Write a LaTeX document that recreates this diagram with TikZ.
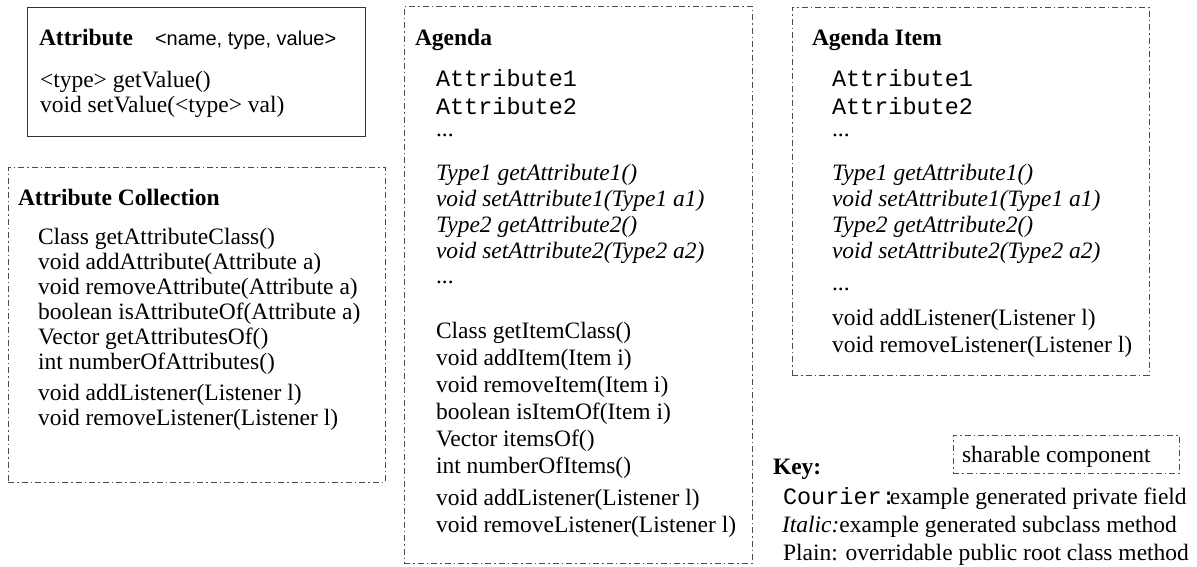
\documentclass[tikz,border=0pt]{standalone}
\usepackage{fontspec}
\setmainfont{Liberation Serif}
\setsansfont{Liberation Sans}
\setmonofont{Liberation Mono}
\begin{document}
\begin{tikzpicture}[x=1pt,y=-1pt,
  txt/.style={anchor=base west, inner sep=0pt, outer sep=0pt, font=\fontsize{23.5}{26}\selectfont},
  head/.style={txt, font=\fontsize{23.5}{26}\selectfont\bfseries},
  field/.style={txt, font=\fontsize{23.5}{26}\selectfont\ttfamily},
  gen/.style={txt, font=\fontsize{23.5}{26}\selectfont\itshape},
  tag/.style={txt, font=\fontsize{20}{22}\selectfont\sffamily},
  classbox/.style={draw=black!80, line width=1.2pt, anchor=north west, inner sep=0pt},
  sharebox/.style={draw=black!70, line width=0.9pt,
    dash pattern=on 6pt off 3pt on 1.5pt off 3pt, anchor=north west, inner sep=0pt}
]
\useasboundingbox (0,0) rectangle (1197,567);

% ---- Attribute (plain class) ----
\node[classbox, minimum width=338pt, minimum height=129pt] (attrbox) at (27,7) {};
\node[head] (attrT) at (39,46) {Attribute};
\node[tag]  (attrS) at (155,46) {<name, type, value>};
\node[txt]  (attrA) at (40,88) {<type> getValue()};
\node[txt]  (attrB) at (40,113) {void setValue(<type> val)};

% ---- Attribute Collection ----
\node[sharebox, minimum width=377pt, minimum height=315pt] (collbox) at (8,167) {};
\node[head] (collT) at (18,205) {Attribute Collection};
\node[txt] (coll1) at (38,244) {Class getAttributeClass()};
\node[txt] (coll2) at (38,269) {void addAttribute(Attribute a)};
\node[txt] (coll3) at (38,294) {void removeAttribute(Attribute a)};
\node[txt] (coll4) at (38,319) {boolean isAttributeOf(Attribute a)};
\node[txt] (coll5) at (38,344) {Vector getAttributesOf()};
\node[txt] (coll6) at (38,369) {int numberOfAttributes()};
\node[txt] (coll7) at (38,400) {void addListener(Listener l)};
\node[txt] (coll8) at (38,425) {void removeListener(Listener l)};

% ---- Agenda ----
\node[sharebox, minimum width=348pt, minimum height=557pt] (agbox) at (404,6) {};
\node[head]  (agT)  at (415,46) {Agenda};
\node[field] (agF1) at (436,87) {Attribute1};
\node[field] (agF2) at (436,115) {Attribute2};
\node[txt]   (agD1) at (436,137) {...};
\node[gen]   (agG1) at (436,180) {Type1 getAttribute1()};
\node[gen]   (agG2) at (436,206) {void setAttribute1(Type1 a1)};
\node[gen]   (agG3) at (436,232) {Type2 getAttribute2()};
\node[gen]   (agG4) at (436,258) {void setAttribute2(Type2 a2)};
\node[txt]   (agD2) at (436,283) {...};
\node[txt]   (agM1) at (436,338) {Class getItemClass()};
\node[txt]   (agM2) at (436,365) {void addItem(Item i)};
\node[txt]   (agM3) at (436,392) {void removeItem(Item i)};
\node[txt]   (agM4) at (436,419) {boolean isItemOf(Item i)};
\node[txt]   (agM5) at (436,446) {Vector itemsOf()};
\node[txt]   (agM6) at (436,473) {int numberOfItems()};
\node[txt]   (agL1) at (436,505) {void addListener(Listener l)};
\node[txt]   (agL2) at (436,532) {void removeListener(Listener l)};

% ---- Agenda Item ----
\node[sharebox, minimum width=357pt, minimum height=368pt] (itbox) at (792,7) {};
\node[head]  (itT)  at (812,46) {Agenda Item};
\node[field] (itF1) at (832,87) {Attribute1};
\node[field] (itF2) at (832,115) {Attribute2};
\node[txt]   (itD1) at (832,137) {...};
\node[gen]   (itG1) at (832,180) {Type1 getAttribute1()};
\node[gen]   (itG2) at (832,206) {void setAttribute1(Type1 a1)};
\node[gen]   (itG3) at (832,232) {Type2 getAttribute2()};
\node[gen]   (itG4) at (832,258) {void setAttribute2(Type2 a2)};
\node[txt]   (itD2) at (832,290) {...};
\node[txt]   (itL1) at (832,325) {void addListener(Listener l)};
\node[txt]   (itL2) at (832,352) {void removeListener(Listener l)};

% ---- Key ----
\node[sharebox, minimum width=226pt, minimum height=38pt] (keybox) at (953,435) {};
\node[txt]  (keyS) at (962,462) {sharable component};
\node[head] (keyT) at (773,474) {Key:};
\node[txt]  (key1) at (783,504) {{\ttfamily Courier:}\kern-6pt example generated private field};
\node[txt]  (key2) at (782,532) {\textit{Italic:}example generated subclass method};
\node[txt]  (key3) at (783,560) {Plain: overridable public root class method};
\end{tikzpicture}
\end{document}
